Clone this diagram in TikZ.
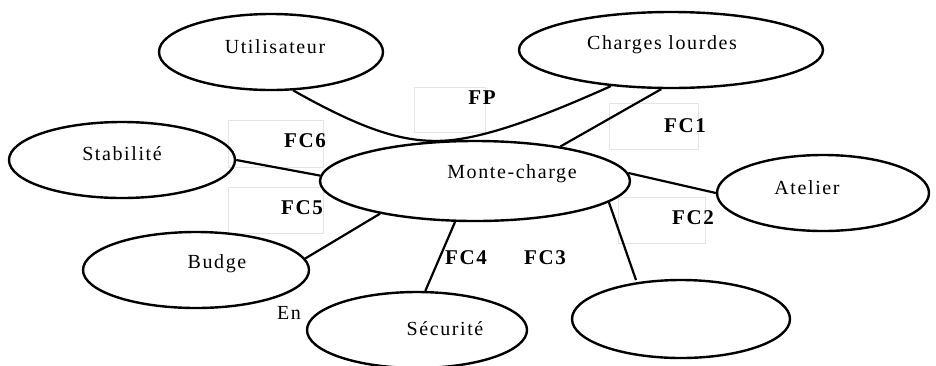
\documentclass[tikz,border=0pt]{standalone}
\usepackage{fontspec}
\setmainfont{Liberation Serif}[LetterSpace=8]
\usetikzlibrary{shapes.geometric}
\definecolor{faint}{HTML}{E4E4E4}
\begin{document}
\begin{tikzpicture}[x=1pt,y=-1pt,
  ell/.style={draw,ellipse,line width=2.4pt,inner sep=0pt},
  txt/.style={font=\fontsize{20}{22}\selectfont,inner sep=0pt},
  lab/.style={font=\fontsize{21}{23}\selectfont\bfseries,inner sep=0pt},
  conn/.style={line width=2.2pt},
  faintbox/.style={draw=faint,line width=0.8pt}]
\useasboundingbox (0,0) rectangle (936,365);
% faint boxes
\draw[faintbox] (414,87) rectangle (485,132);
\draw[faintbox] (228,120) rectangle (323,167);
\draw[faintbox] (609,103) rectangle (698,149);
\draw[faintbox] (228,187) rectangle (323,233);
\draw[faintbox] (618,197) rectangle (705,243);
% ellipses
\node[ell,minimum width=224pt,minimum height=76pt] (ut) at (271,52) {};
\node[ell,minimum width=304pt,minimum height=76pt] (cl) at (671,50) {};
\node[ell,minimum width=226pt,minimum height=76pt] (st) at (122,160) {};
\node[ell,minimum width=310pt,minimum height=80pt] (mc) at (475,181) {};
\node[ell,minimum width=212pt,minimum height=76pt] (at) at (823,193) {};
\node[ell,minimum width=226pt,minimum height=76pt] (bu) at (196,270) {};
\node[ell,minimum width=220pt,minimum height=76pt] (se) at (417,330) {};
\node[ell,minimum width=218pt,minimum height=78pt] (em) at (681,319) {};
% texts
\node[txt] (tut) at (275,47) {Utilisateur};
\node[txt] (tcl) at (662,45) {Charges lourdes};
\node[txt] (tst) at (122,154) {Stabilité};
\node[txt] (tmc) at (512,174) {Monte-charge};
\node[txt] (tat) at (807,188) {Atelier};
\node[txt] (tbu) at (217,264) {Budge};
\node[txt] (tse) at (445,329) {Sécurité};
\node[txt] (ten) at (289,313) {En};
% labels
\node[lab] (lfp) at (482,98) {FP};
\node[lab] (lfc6) at (305,141) {FC6};
\node[lab] (lfc1) at (685,126) {FC1};
\node[lab] (lfc5) at (302,208) {FC5};
\node[lab] (lfc2) at (693,218) {FC2};
\node[lab] (lfc4) at (466,258) {FC4};
\node[lab] (lfc3) at (545,258) {FC3};
% connectors
\coordinate (fc3end) at (636,280);
\draw[conn] (ut.300.7) .. controls (360,128) and (400,142) .. (mc.131)
  .. controls (480,140) and (540,118) .. (cl.211);
\draw[conn] (cl.256.7) -- (mc.22.6);
\draw[conn] (st.0) -- (mc.178.5);
\draw[conn] (bu.6.7) -- (mc.199.2);
\draw[conn] (se.78) -- (mc.244);
\draw[conn] (mc.351) -- (fc3end);
\draw[conn] (mc.3) -- (at.180);
\end{tikzpicture}
\end{document}
